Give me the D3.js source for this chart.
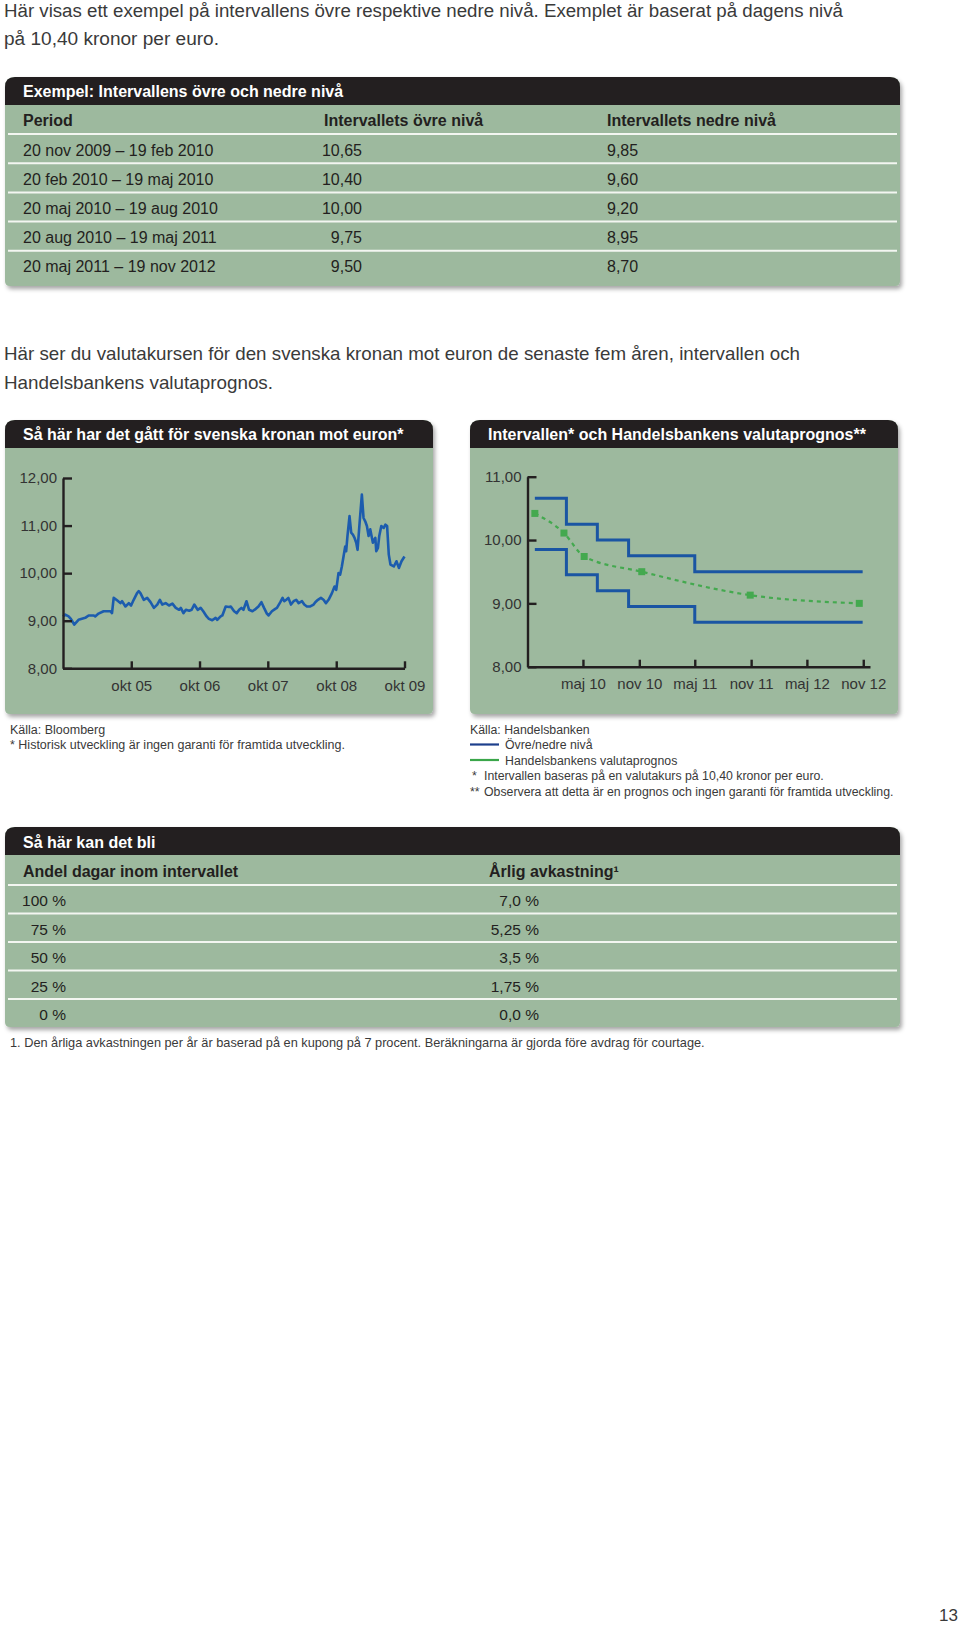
<!DOCTYPE html>
<html><head><meta charset="utf-8">
<script src="https://cdn.jsdelivr.net/npm/d3@7"></script>
<style>
body{margin:0;background:#fff;}
svg{display:block;font-family:"Liberation Sans",Arial,Helvetica,sans-serif;}
</style></head><body>
<svg id="page" width="960" height="1625"></svg>
<script>
// ---------------- DATA ----------------
const introLines = ["Här visas ett exempel på intervallens övre respektive nedre nivå. Exemplet är baserat på dagens nivå",
  "på 10,40 kronor per euro."];
const table1Title = "Exempel: Intervallens övre och nedre nivå";
const table1Columns = ["Period", "Intervallets övre nivå", "Intervallets nedre nivå"];
const table1Periods = ["20 nov 2009 – 19 feb 2010", "20 feb 2010 – 19 maj 2010", "20 maj 2010 – 19 aug 2010",
  "20 aug 2010 – 19 maj 2011", "20 maj 2011 – 19 nov 2012"];
const table1Upper = ["10,65", "10,40", "10,00", "9,75", "9,50"];
const table1Lower = ["9,85", "9,60", "9,20", "8,95", "8,70"];

const chartIntroLines = ["Här ser du valutakursen för den svenska kronan mot euron de senaste fem åren, intervallen och",
  "Handelsbankens valutaprognos."];

const histTitle = "Så här har det gått för svenska kronan mot euron*";
const sekDates = ["2004-10-01","2004-10-13","2004-10-31","2004-11-12","2004-11-30","2004-12-23","2005-01-10","2005-01-28","2005-02-15","2005-03-13",
"2005-03-22","2005-04-09","2005-05-06","2005-05-24","2005-06-11","2005-06-20","2005-06-29","2005-07-17","2005-08-04","2005-08-13",
"2005-08-31","2005-09-18","2005-09-30","2005-10-14","2005-11-01","2005-11-10","2005-11-19","2005-12-07","2005-12-25","2006-01-12",
"2006-01-30","2006-02-17","2006-03-03","2006-03-16","2006-04-03","2006-04-21","2006-05-09","2006-05-27","2006-06-14","2006-06-23",
"2006-07-07","2006-07-20","2006-08-07","2006-08-20","2006-09-03","2006-09-21","2006-10-07","2006-10-21","2006-11-08","2006-11-20",
"2006-12-08","2006-12-26","2007-01-04","2007-01-22","2007-01-31","2007-02-18","2007-03-08","2007-03-17","2007-04-04","2007-04-18",
"2007-05-01","2007-05-13","2007-05-24","2007-06-09","2007-06-23","2007-07-11","2007-07-29","2007-08-12","2007-08-28","2007-09-11",
"2007-09-26","2007-10-05","2007-10-23","2007-11-10","2007-11-19","2007-12-07","2007-12-19","2007-12-28","2008-01-08","2008-01-19",
"2008-02-02","2008-02-16","2008-03-01","2008-03-14","2008-04-01","2008-04-13","2008-04-27","2008-05-15","2008-06-02","2008-06-11",
"2008-06-25","2008-07-11","2008-07-25","2008-08-07","2008-08-21","2008-09-08","2008-09-22","2008-10-01","2008-10-13","2008-10-22",
"2008-10-31","2008-11-09","2008-11-18","2008-11-23","2008-11-30","2008-12-11","2008-12-20","2008-12-29","2009-01-07","2009-01-16",
"2009-01-23","2009-02-03","2009-02-15","2009-02-24","2009-03-05","2009-03-14","2009-03-23","2009-04-01","2009-04-15","2009-04-28",
"2009-05-03","2009-05-12","2009-05-19","2009-05-30","2009-06-12","2009-06-21","2009-06-30","2009-07-09","2009-07-18","2009-08-05",
"2009-08-19","2009-09-01","2009-09-15","2009-10-01"];
const sekValues = [9.09,9.13,9.09,9.04,8.92,9.02,9.04,9.06,9.11,9.11,
9.09,9.15,9.20,9.20,9.20,9.16,9.48,9.43,9.37,9.41,
9.30,9.37,9.32,9.44,9.58,9.62,9.58,9.44,9.48,9.39,
9.27,9.34,9.44,9.34,9.37,9.32,9.36,9.27,9.23,9.27,
9.16,9.23,9.21,9.23,9.34,9.23,9.27,9.20,9.09,9.04,
9.01,9.06,9.02,9.09,9.11,9.30,9.29,9.30,9.20,9.16,
9.23,9.27,9.23,9.41,9.23,9.20,9.25,9.30,9.39,9.27,
9.15,9.11,9.20,9.25,9.27,9.39,9.48,9.41,9.44,9.48,
9.34,9.41,9.44,9.37,9.41,9.34,9.30,9.30,9.34,9.39,
9.44,9.48,9.44,9.37,9.44,9.58,9.72,9.65,10.00,9.97,
10.14,10.35,10.56,10.46,10.78,11.20,10.85,10.81,10.74,10.64,
10.49,11.06,11.65,11.16,11.09,10.99,10.78,10.92,10.64,10.74,
10.46,10.53,10.78,10.99,10.95,11.02,10.99,10.39,10.18,10.14,
10.25,10.11,10.25,10.35];
const histTickDates = ["2005-10-01","2006-10-01","2007-10-01","2008-10-01","2009-10-01"];
const histTickLabels = ["okt 05","okt 06","okt 07","okt 08","okt 09"];
const histYTicks = [8, 9, 10, 11, 12];
const histNotes = ["Källa: Bloomberg", "* Historisk utveckling är ingen garanti för framtida utveckling."];

const fcTitle = "Intervallen* och Handelsbankens valutaprognos**";
const levelDates = ["2009-11-25","2010-03-08","2010-06-17","2010-09-27","2011-05-01","2012-10-30"];
const upperLevels = [10.66, 10.25, 10.00, 9.75, 9.50];
const lowerLevels = [9.85, 9.45, 9.20, 8.95, 8.70];
const forecastDates = ["2009-11-25","2010-02-28","2010-05-05","2010-11-09","2011-10-29","2012-10-19"];
const forecastValues = [10.42, 10.11, 9.74, 9.50, 9.13, 9.00];
const fcTickDates = ["2010-05-01","2010-11-01","2011-05-01","2011-11-01","2012-05-01","2012-11-01"];
const fcTickLabels = ["maj 10","nov 10","maj 11","nov 11","maj 12","nov 12"];
const fcYTicks = [8, 9, 10, 11];
const fcSource = "Källa: Handelsbanken";
const fcLegend = ["Övre/nedre nivå", "Handelsbankens valutaprognos"];
const fcNotes = [["*", "Intervallen baseras på en valutakurs på 10,40 kronor per euro."],
  ["**", "Observera att detta är en prognos och ingen garanti för framtida utveckling."]];

const table2Title = "Så här kan det bli";
const table2Columns = ["Andel dagar inom intervallet", "Årlig avkastning¹"];
const table2Share = ["100 %", "75 %", "50 %", "25 %", "0 %"];
const table2Return = ["7,0 %", "5,25 %", "3,5 %", "1,75 %", "0,0 %"];
const table2Note = "1. Den årliga avkastningen per år är baserad på en kupong på 7 procent. Beräkningarna är gjorda före avdrag för courtage.";
const pageNumber = "13";

// ---------------- STYLE ----------------
const GREEN = "#9db99e", BLACK = "#231f20", TXT = "#3a3a3a", LINE = "#f3f6f1";
const BLUE = "#1c5cae", STEP = "#1a55a3", FC = "#44a94f";
const svg = d3.select("#page");
const parse = d3.timeParse("%Y-%m-%d");
const sv = d3.formatLocale({decimal: ",", thousands: " ", grouping: [3], currency: ["", " kr"]});
const f2 = sv.format(".2f");

const defs = svg.append("defs");
const flt = defs.append("filter").attr("id", "sh").attr("x", "-5%").attr("y", "-5%").attr("width", "115%").attr("height", "120%");
flt.append("feDropShadow").attr("dx", 2).attr("dy", 3).attr("stdDeviation", 2)
  .attr("flood-color", "#000").attr("flood-opacity", 0.35);

function boxPath(x, y, w, h, rt, rb) {
  return `M${x},${y + h - rb}V${y + rt}Q${x},${y} ${x + rt},${y}H${x + w - rt}Q${x + w},${y} ${x + w},${y + rt}` +
    `V${y + h - rb}Q${x + w},${y + h} ${x + w - rb},${y + h}H${x + rb}Q${x},${y + h} ${x},${y + h - rb}Z`;
}
function panel(x, y, w, hh, h, title, titleX) {
  svg.append("path").attr("d", boxPath(x, y, w, h, 10, 5)).attr("fill", GREEN).attr("filter", "url(#sh)");
  svg.append("path").attr("d", `M${x},${y + hh}V${y + 10}Q${x},${y} ${x + 10},${y}H${x + w - 10}Q${x + w},${y} ${x + w},${y + 10}V${y + hh}Z`)
    .attr("fill", BLACK);
  svg.append("text").attr("x", titleX).attr("y", y + 20).attr("fill", "#fff")
    .attr("font-size", 16).attr("font-weight", "bold").text(title);
}
function text(x, y, s, size, opts = {}) {
  const t = svg.append("text").attr("x", x).attr("y", y).attr("font-size", size)
    .attr("fill", opts.fill || TXT).text(s);
  if (opts.anchor) t.attr("text-anchor", opts.anchor);
  if (opts.bold) t.attr("font-weight", "bold");
  if (opts.ls) t.attr("letter-spacing", opts.ls);
  if (opts.width) t.attr("textLength", opts.width).attr("lengthAdjust", "spacingAndGlyphs");
  return t;
}

// ---------------- INTRO ----------------
text(4, 17, introLines[0], 18, {width: 839});
text(4, 44.5, introLines[1], 18, {width: 215});

// ---------------- TABLE 1 ----------------
panel(5, 77, 895, 28, 209, table1Title, 23);
const t1ColX = [23, 324, 607];
table1Columns.forEach((c, i) => text(t1ColX[i], 126, c, 16, {bold: true, fill: BLACK}));
const t1Sep = d3.range(5).map(i => 134 + i * 29.2);
t1Sep.forEach(y => svg.append("line").attr("x1", 8).attr("x2", 897).attr("y1", y).attr("y2", y)
  .attr("stroke", LINE).attr("stroke-width", 2));
table1Periods.forEach((p, i) => {
  const y = t1Sep[i] + 21.5;
  text(23, y, p, 16, {fill: BLACK});
  text(362, y, table1Upper[i], 16, {fill: BLACK, anchor: "end"});
  text(607, y, table1Lower[i], 16, {fill: BLACK});
});

// ---------------- CHART INTRO ----------------
text(4, 359.5, chartIntroLines[0], 18.5, {width: 796});
text(4, 389, chartIntroLines[1], 18.5, {width: 269});

// ---------------- LEFT CHART ----------------
panel(5, 420, 428, 28, 294, histTitle, 23);
const hx = d3.scaleTime().domain([parse("2004-10-01"), parse("2009-10-01")]).range([63, 404.5]);
const hy = d3.scaleLinear().domain([8, 12]).range([668.3, 478]);
function styleAxis(g) {
  g.selectAll("path,line").attr("stroke", BLACK).attr("stroke-width", 2.4);
  g.selectAll("text").attr("fill", "#333").attr("font-size", 15).attr("font-family", null);
  g.attr("font-family", null);
}
const hLine = d3.line().x((d, i) => hx(parse(sekDates[i]))).y(d => hy(d)).curve(d3.curveLinear);
svg.append("path").attr("d", hLine(sekValues)).attr("fill", "none").attr("stroke", BLUE)
  .attr("stroke-width", 2.6).attr("stroke-linejoin", "round");
svg.append("g").attr("transform", "translate(63,0)")
  .call(d3.axisLeft(hy).tickValues(histYTicks).tickFormat(f2).tickSizeInner(-9).tickSizeOuter(0).tickPadding(6))
  .call(styleAxis);
svg.append("g").attr("transform", `translate(0,${hy(8)})`)
  .call(d3.axisBottom(hx).tickValues(histTickDates.map(parse)).tickFormat((d, i) => histTickLabels[i])
    .tickSizeInner(-7).tickSizeOuter(0).tickPadding(12))
  .call(styleAxis);
text(10, 734, histNotes[0], 12.5);
text(10, 748.5, histNotes[1], 12.5);

// ---------------- RIGHT CHART ----------------
panel(470, 420, 428, 28, 294, fcTitle, 488);
const fx = d3.scaleTime().domain([parse("2009-11-01"), parse("2012-11-23")]).range([527.5, 870]);
const fy = d3.scaleLinear().domain([8, 11]).range([666.7, 476.7]);
const stepLine = d3.line().x(d => fx(d[0])).y(d => fy(d[1])).curve(d3.curveStepAfter);
[upperLevels, lowerLevels].forEach(lv => {
  const pts = lv.map((v, i) => [parse(levelDates[i]), v]);
  pts.push([parse(levelDates[levelDates.length - 1]), lv[lv.length - 1]]);
  svg.append("path").attr("d", stepLine(pts)).attr("fill", "none").attr("stroke", STEP).attr("stroke-width", 3);
});
const fcPts = forecastValues.map((v, i) => [parse(forecastDates[i]), v]);
svg.append("path").attr("d", d3.line().x(d => fx(d[0])).y(d => fy(d[1])).curve(d3.curveMonotoneX)(fcPts))
  .attr("fill", "none").attr("stroke", FC).attr("stroke-width", 2.2).attr("stroke-dasharray", "4,4");
svg.selectAll(".fcpt").data(fcPts).enter().append("rect")
  .attr("x", d => fx(d[0]) - 3.5).attr("y", d => fy(d[1]) - 3.5).attr("width", 7).attr("height", 7).attr("fill", FC);
svg.append("g").attr("transform", "translate(527.5,0)")
  .call(d3.axisLeft(fy).tickValues(fcYTicks).tickFormat(f2).tickSizeInner(-9).tickSizeOuter(0).tickPadding(6))
  .call(styleAxis);
svg.append("g").attr("transform", `translate(0,${fy(8)})`)
  .call(d3.axisBottom(fx).tickValues(fcTickDates.map(parse)).tickFormat((d, i) => fcTickLabels[i])
    .tickSizeInner(-7).tickSizeOuter(0).tickPadding(12))
  .call(styleAxis);
text(470, 734, fcSource, 12.3);
const legColors = ["#1d3f8c", "#3aa64a"];
fcLegend.forEach((l, i) => {
  const y = 744.5 + i * 15.5;
  svg.append("line").attr("x1", 470).attr("x2", 499).attr("y1", y).attr("y2", y)
    .attr("stroke", legColors[i]).attr("stroke-width", 2.2);
  text(505, y + 4.5, l, 12.3);
});
fcNotes.forEach((n, i) => {
  const y = 780 + i * 15.5;
  text(i === 0 ? 472 : 470, y, n[0], 12.3);
  text(484, y, n[1], 12.3);
});

// ---------------- TABLE 2 ----------------
panel(5, 827, 895, 28, 200, table2Title, 23);
svg.selectAll("text").filter(function () { return this.textContent === table2Title; }).attr("y", 848);
const t2ColX = [23, 489];
table2Columns.forEach((c, i) => text(t2ColX[i], 877, c, 16, {bold: true, fill: BLACK}));
const t2Sep = d3.range(5).map(i => 885 + i * 28.5);
t2Sep.forEach(y => svg.append("line").attr("x1", 8).attr("x2", 897).attr("y1", y).attr("y2", y)
  .attr("stroke", LINE).attr("stroke-width", 2));
table2Share.forEach((s, i) => {
  const y = t2Sep[i] + 21;
  text(66, y, s, 15.5, {fill: BLACK, anchor: "end"});
  text(539, y, table2Return[i], 15.5, {fill: BLACK, anchor: "end"});
});
text(10, 1047, table2Note, 12.75);

text(958, 1621, pageNumber, 17, {anchor: "end"});
</script>
</body></html>
